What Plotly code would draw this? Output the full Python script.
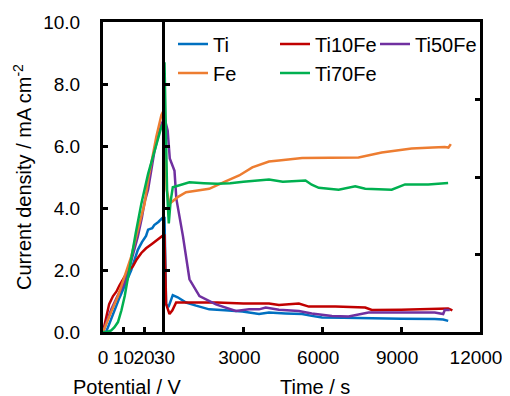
import plotly.graph_objects as go

# ---------------- data ----------------
series_names = ["Ti", "Ti10Fe", "Ti50Fe", "Fe", "Ti70Fe"]
series_colors = ["#0070C0", "#C00000", "#7030A0", "#ED7D31", "#00B050"]
legend_of = ["legend", "legend2", "legend3", "legend", "legend2"]

# potential sweep (left panel)
ti_v = [0, 1.5, 3, 5.7, 8, 9.8, 12, 13.8, 15.5, 17, 19, 21, 22, 24, 25, 27, 29.3, 30]
ti_i = [0, 0.0, 0.25, 0.73, 1.1, 1.37, 1.7, 2.0, 2.35, 2.65, 2.9, 3.1, 3.3, 3.35, 3.45, 3.55, 3.7, 3.72]
ti10_v = [0, 1, 3, 4.9, 6.5, 8, 10, 12, 14.6, 16.5, 18.7, 21, 24, 27, 29.3, 30]
ti10_i = [0, 0.3, 0.9, 1.16, 1.3, 1.5, 1.75, 1.95, 2.12, 2.35, 2.55, 2.7, 2.85, 3.0, 3.13, 3.15]
ti50_v = [0, 2, 4, 7, 10.6, 13, 15, 17, 19, 20.3, 22, 23.6, 25, 26.8, 28.5, 30]
ti50_i = [0, 0.35, 0.73, 1.15, 1.6, 2.1, 2.6, 3.08, 3.7, 4.2, 4.6, 5.2, 5.8, 6.3, 6.7, 6.9]
fe_v = [0, 2, 4, 7.3, 10, 13.8, 17, 20.3, 22, 24, 26, 28.5, 30]
fe_i = [0, 0.3, 0.65, 1.16, 1.7, 2.44, 3.3, 4.14, 4.9, 5.6, 6.3, 7.0, 7.2]
ti70_v = [0, 2, 4, 5.5, 7.3, 9, 10.6, 12, 13.8, 16, 18.7, 22, 25.2, 28.4, 30]
ti70_i = [0, 0, 0.05, 0.15, 0.32, 0.7, 1.16, 1.7, 2.33, 3.2, 4.14, 5.1, 5.85, 6.6, 6.8]

# potentiostatic hold (right panel)
ti_t = [0, 60, 150, 315, 500, 820, 1200, 1700, 2300, 2965, 3596, 3974, 4600, 5235, 5600, 5993, 6800, 7760, 9000, 10280, 10600, 10790]
ti_ti = [3.72, 0.9, 0.8, 1.19, 1.12, 0.95, 0.85, 0.73, 0.7, 0.66, 0.58, 0.63, 0.6, 0.58, 0.52, 0.47, 0.46, 0.44, 0.43, 0.42, 0.4, 0.36]
ti10_t = [0, 60, 190, 300, 442, 1000, 2000, 3000, 3974, 4353, 5110, 5489, 6500, 7634, 7886, 9000, 10000, 10787, 10950]
ti10_ti = [3.15, 0.9, 0.58, 0.7, 0.95, 0.95, 0.95, 0.92, 0.92, 0.87, 0.92, 0.82, 0.82, 0.79, 0.71, 0.72, 0.74, 0.76, 0.7]
ti50_t = [0, 120, 200, 380, 450, 700, 950, 1330, 1956, 2714, 3217, 3596, 3849, 4353, 5110, 5600, 6370, 7002, 7760, 9000, 10280, 10600, 10660, 10850]
ti50_ti = [6.9, 6.5, 5.6, 5.2, 4.3, 3.1, 1.7, 1.16, 0.89, 0.68, 0.73, 0.73, 0.79, 0.72, 0.68, 0.6, 0.52, 0.5, 0.63, 0.63, 0.63, 0.58, 0.71, 0.71]
fe_t = [0, 80, 190, 500, 820, 1200, 1700, 2300, 2840, 3340, 3974, 4350, 5235, 6300, 7380, 8263, 9400, 10200, 10660, 10800, 10890]
fe_ti = [7.2, 4.6, 4.14, 4.35, 4.51, 4.55, 4.62, 4.85, 5.05, 5.31, 5.5, 5.53, 5.61, 5.62, 5.63, 5.79, 5.92, 5.95, 5.97, 5.95, 6.06]
ti70_t = [0, 50, 100, 163, 230, 315, 600, 946, 1500, 2000, 2500, 3000, 3974, 4500, 5363, 5600, 5867, 6624, 7255, 7634, 8641, 9148, 10030, 10787]
ti70_ti = [8.7, 6.0, 4.5, 3.5, 4.2, 4.67, 4.75, 4.83, 4.8, 4.78, 4.8, 4.85, 4.92, 4.85, 4.89, 4.75, 4.65, 4.59, 4.7, 4.62, 4.59, 4.76, 4.76, 4.81]

pot_x = [ti_v, ti10_v, ti50_v, fe_v, ti70_v]
pot_y = [ti_i, ti10_i, ti50_i, fe_i, ti70_i]
time_x = [ti_t, ti10_t, ti50_t, fe_t, ti70_t]
time_y = [ti_ti, ti10_ti, ti50_ti, fe_ti, ti70_ti]

y_ticks = [0, 2, 4, 6, 8, 10]
pot_ticks = [0, 10, 20, 30]
time_ticks = [3000, 6000, 9000, 12000]
right_ticks = [2.5, 5, 7.5]

FONT = "Liberation Sans, Arial, sans-serif"
FS = 20
TFS = 19
LW = 2.5

fig = go.Figure()
for name, col, lg, px_, py_ in zip(series_names, series_colors, legend_of, pot_x, pot_y):
    fig.add_trace(go.Scatter(x=px_, y=py_, mode="lines", name=name, legendgroup=name,
                             showlegend=True, legend=lg, line=dict(color=col, width=LW),
                             xaxis="x", yaxis="y"))
for name, col, tx, ty in zip(series_names, series_colors, time_x, time_y):
    fig.add_trace(go.Scatter(x=tx, y=ty, mode="lines", name=name, legendgroup=name,
                             showlegend=False, line=dict(color=col, width=LW),
                             xaxis="x2", yaxis="y2"))
# invisible trace to carry the right-hand tick axis
fig.add_trace(go.Scatter(x=[0], y=[0], mode="markers", marker=dict(opacity=0),
                         showlegend=False, hoverinfo="skip", xaxis="x2", yaxis="y3"))

# page body has an 8 px margin, so figure coordinates = screen - 8
W, H = 510, 396
L, R, T, B = 95, 38, 14, 72
PW, PH = W - L - R, H - T - B
split = 61.5 / PW
BOTTOM = H - B  # y pixel of the x axes in figure coordinates

axis_common = dict(showline=True, linecolor="black", linewidth=3,
                   showgrid=False, zeroline=False, ticks="inside", ticklen=5,
                   tickwidth=2.5, tickcolor="black", automargin=False,
                   tickfont=dict(family=FONT, size=TFS, color="black"))

def leg(px_left):
    return dict(orientation="v", x=(px_left - L) / PW, y=(BOTTOM - 16.5) / PH,
                xanchor="left", yanchor="top", itemwidth=30, tracegroupgap=0,
                font=dict(family=FONT, size=FS, color="black"),
                bgcolor="rgba(0,0,0,0)")

fig.update_layout(
    width=W, height=H, margin=dict(l=L, r=R, t=T, b=B, autoexpand=False),
    paper_bgcolor="white", plot_bgcolor="white",
    font=dict(family=FONT, size=FS, color="black"),
    xaxis=dict(domain=[0, split], range=[0, 30], tickvals=pot_ticks, tickangle=0,
               anchor="y", ticklabelstandoff=6, mirror=True, **axis_common),
    xaxis2=dict(domain=[split, 1], range=[0, 12000], tickvals=time_ticks, tickangle=0,
                tickformat="d", anchor="y2", ticklabelstandoff=6, ticklabelshift=-4,
                mirror=True, **axis_common),
    yaxis=dict(domain=[0, 1], range=[0, 10], tickvals=y_ticks, tickformat=".1f",
               anchor="x", ticklabelstandoff=16, mirror=False, **axis_common),
    yaxis2=dict(domain=[0, 1], range=[0, 10], tickvals=[2, 4, 6, 8], showticklabels=False,
                anchor="x2", mirror=True, **axis_common),
    yaxis3=dict(range=[0, 10], tickvals=right_ticks, showticklabels=False, overlaying="y2",
                anchor="x2", side="right", showline=False, showgrid=False, zeroline=False,
                automargin=False,
                ticks="inside", ticklen=5, tickwidth=2.5, tickcolor="black"),
    legend=leg(165),
    legend2=leg(267),
    legend3=leg(367),
    annotations=[
        dict(text="Current density / mA cm<sup>-2</sup>", xref="paper", yref="paper",
             x=(14 - L) / PW, y=0.5, textangle=-90, showarrow=False,
             xanchor="center", yanchor="middle", font=dict(family=FONT, size=FS)),
        dict(text="Potential / V", xref="paper", yref="paper",
             x=(119 - L) / PW, y=(BOTTOM - 379) / PH, showarrow=False,
             xanchor="center", yanchor="middle", font=dict(family=FONT, size=FS)),
        dict(text="Time / s", xref="paper", yref="paper",
             x=(307 - L) / PW, y=(BOTTOM - 379) / PH, showarrow=False,
             xanchor="center", yanchor="middle", font=dict(family=FONT, size=FS)),
    ],
)

fig.write_html("out.html")
